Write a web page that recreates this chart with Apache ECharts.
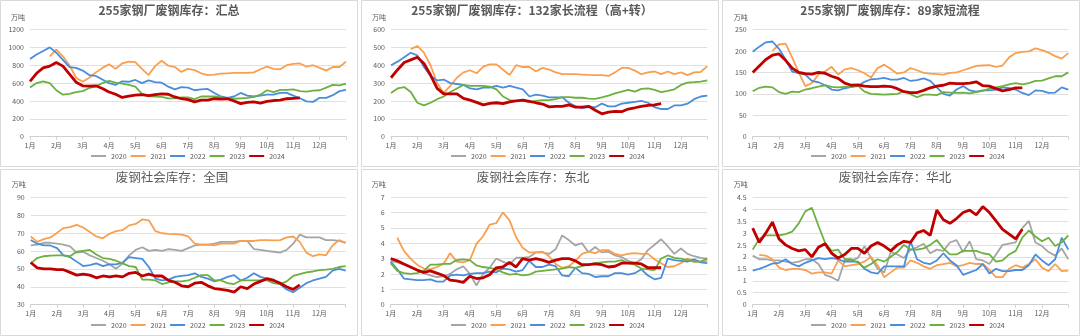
<!DOCTYPE html>
<html><head><meta charset="utf-8">
<script src="https://cdn.jsdelivr.net/npm/echarts@6/dist/echarts.min.js"></script>
<style>html,body{margin:0;padding:0;background:#fff}#c{width:1080px;height:336px}</style>
</head><body><div id="c"></div>
<script>
// ---- tick labels / categories ----
const months = ['1月','2月','3月','4月','5月','6月','7月','8月','9月','10月','11月','12月'];
const years = ['2020','2021','2022','2023','2024'];
const weeks = Array.from({length: 49}, (_, i) => String(i)); // quarter-month steps
const n = null;

// ---- 255家钢厂废钢库存：汇总 ----
const tot2020 = [];
const tot2021 = [n,n,n,900,975,900,800,660,615,660,720,770,810,760,820,840,835,760,690,790,850,795,780,725,760,745,710,690,695,705,710,715,715,715,720,755,785,760,755,800,815,820,785,800,770,740,780,780,840];
const tot2022 = [870,920,960,1000,940,860,780,770,740,690,680,640,600,580,620,615,635,600,630,610,605,560,530,555,550,520,530,535,490,450,435,450,490,460,450,460,470,470,490,490,460,430,395,390,435,435,465,510,525];
const tot2023 = [550,600,620,600,520,470,480,500,510,545,565,600,625,605,595,580,560,480,455,450,445,430,430,440,440,420,450,450,450,440,430,425,430,435,445,470,520,500,525,525,530,510,505,515,520,550,580,575,595];
const tot2024 = [620,710,770,790,830,790,700,610,570,565,570,540,500,475,440,455,465,470,460,470,480,475,445,425,415,390,410,410,425,420,425,400,370,385,390,375,395,405,410,425,430,435];

// ---- 132家长流程（高+转） ----
const lng2020 = [];
const lng2021 = [n,n,n,490,508,470,400,300,245,285,330,360,372,355,392,405,405,375,345,400,390,390,365,385,375,360,350,350,350,348,346,345,345,340,360,385,385,370,350,360,365,350,365,350,360,345,360,362,395];
const lng2022 = [400,420,445,470,455,390,340,315,320,300,295,290,270,265,275,275,285,275,285,275,265,225,235,230,220,220,220,190,170,160,165,165,185,170,170,185,190,195,200,190,165,155,155,175,175,185,210,225,230];
const lng2023 = [245,270,278,250,190,175,190,210,225,250,270,290,285,285,285,280,265,225,205,200,200,195,200,205,205,210,222,222,218,218,213,212,220,230,242,252,262,252,268,270,262,250,257,265,290,303,305,308,315];
const lng2024 = [330,375,415,430,445,410,345,270,240,240,240,215,205,192,178,187,190,185,195,200,205,198,190,183,167,170,170,178,165,165,170,148,128,138,142,140,155,162,170,175,178,185];

// ---- 89家短流程 ----
const sht2020 = [];
const sht2021 = [n,n,n,200,215,217,185,150,118,125,145,152,163,145,157,160,155,148,138,160,168,158,147,150,160,155,149,147,146,145,149,150,155,160,165,166,167,163,166,185,195,198,199,206,202,196,188,182,195];
const sht2022 = [198,210,220,222,205,180,152,148,145,130,127,120,110,108,113,116,118,128,134,135,137,133,133,137,130,132,136,130,115,100,96,110,118,108,105,108,108,110,115,113,110,102,97,108,107,102,103,115,110];
const sht2023 = [106,114,117,115,104,100,105,104,110,113,117,120,116,115,116,116,119,105,100,99,98,99,100,106,99,92,98,98,97,104,103,102,103,101,104,107,112,115,118,122,125,122,125,130,131,136,141,141,150];
const sht2024 = [150,165,180,190,193,178,160,150,147,146,150,148,141,136,125,120,121,118,117,117,118,117,112,105,103,103,108,114,118,120,125,124,124,125,128,119,118,112,107,110,114,114];

// ---- 废钢社会库存：全国 ----
const nat2020 = [63,63.5,64.5,64.5,64,63.5,62.5,59,59.5,57.5,56,54.5,52.5,50,53,57.5,60.5,62,60,60.5,60,61,60.5,60,61.5,63,63.5,63.5,64,65,65,65,65.5,65.5,61,60.5,60,59.5,59,60.5,64,69,67.5,67.5,67.5,66,66,65.5,64.5];
const nat2021 = [68,65,66.5,67.5,70,72.7,73.2,74.5,73,70.5,68,67,69.5,71,71.5,74.2,75,77.5,77,71,69.8,69.5,69.3,69,68,64,63.5,63.5,63,64,64,64,65.5,65.5,65.5,66,66,65.8,66,67.5,68,65,59,57,58,57.5,63,66,64.5];
const nat2022 = [66,64,63,63,61.5,57.5,56.5,54,51.5,52,53,51.5,52.5,52.5,53.5,56.5,56,55.5,51,44.5,43.5,44,45.5,46,46.5,47.5,45.5,44.5,43,44,45.5,46.5,43.5,45,47.5,45.5,44.5,44,41.5,38.5,37,39.5,42,43.5,44.5,45.5,49,50,49];
const nat2023 = [53,56,57,57.3,57.5,57.5,57,59.5,60,60.5,58,56,55.5,54.5,53,51.5,51,44,44,43.5,41.5,42.5,43,43,43.5,45,46.5,46.5,43.5,43.5,42,41.5,43.5,43.5,43.5,43.5,43.5,42,41.5,43,46,47,48,48.5,49.3,49.5,50,51,51.5];
const nat2024 = [53.5,50.5,50,50,49.5,49.5,48,46.5,47,46.5,45,46,45.5,46,45.5,47.5,48,46,47,46,46,43.5,42.5,40.5,40,42,42.5,40.5,39,38.5,38,37,40,39,41.5,43,44.5,43.5,42,40,38.5,41];

// ---- 废钢社会库存：东北 ----
const ne2020 = [2.85,2.75,2.6,2.45,2.25,2.05,1.9,1.8,1.85,2.0,2.3,2.5,2.0,1.25,2.0,2.4,3.0,2.8,2.6,3.05,3.05,3.1,3.4,3.4,3.3,3.6,4.5,4.2,3.85,4.0,3.4,3.75,3.4,3.45,3.2,3.1,2.85,2.7,2.95,3.55,3.9,4.25,3.8,3.3,3.65,3.3,3.15,3.05,3.0];
const ne2021 = [n,4.35,3.5,3.0,2.6,2.35,2.3,2.45,2.65,3.35,2.8,2.75,2.9,3.95,4.45,5.2,5.3,6.0,5.5,4.4,3.7,3.4,3.4,3.45,3.15,2.65,2.4,2.5,2.85,3.3,3.45,3.35,3.55,3.55,3.3,3.2,3.3,3.35,3.3,3.3,2.95,2.7,2.45,2.5,2.7,3.0,2.8,2.8,2.85];
const ne2022 = [2.8,2.3,1.7,1.65,1.6,1.6,1.65,1.5,1.5,1.9,1.95,1.9,2.0,2.05,2.05,2.15,2.1,2.35,2.3,2.15,2.25,2.85,2.45,2.45,2.6,2.5,1.9,1.85,2.4,2.05,2.0,1.8,1.85,1.85,2.05,2.05,1.95,2.05,2.3,1.9,1.65,1.75,3.0,2.9,2.85,2.8,2.95,2.75,2.7];
const ne2023 = [2.7,2.2,2.05,2.0,2.05,2.2,2.6,2.6,2.65,2.65,2.9,2.95,2.9,2.55,2.45,2.4,2.3,2.1,1.95,2.0,1.9,1.95,2.15,2.2,2.25,2.3,2.35,2.45,2.4,2.5,2.6,2.7,2.75,2.8,2.8,2.9,2.7,2.6,2.35,2.3,2.25,3.0,3.2,3.05,3.0,2.9,2.8,2.8,3.0];
const ne2024 = [3.0,2.85,2.65,2.45,2.25,2.1,2.2,2.05,1.9,1.6,1.55,1.45,1.85,1.7,1.75,1.95,2.4,2.45,2.75,2.45,3.0,2.9,3.0,2.9,2.75,2.9,3.0,3.0,2.85,2.6,2.6,2.65,2.6,2.45,2.5,2.7,2.7,2.7,2.65,2.4,2.4,2.4];

// ---- 废钢社会库存：华北 ----
const nc2020 = [2.05,1.9,1.9,1.85,1.85,1.8,1.75,1.8,1.9,1.9,1.7,1.25,1.15,1.0,1.85,1.85,1.95,2.45,1.95,1.5,1.35,2.2,2.1,1.95,2.3,2.4,2.55,2.15,2.3,2.25,2.6,2.7,2.2,2.65,1.9,1.85,1.7,2.1,2.5,2.55,2.6,3.2,3.5,2.6,2.45,2.2,2.05,2.35,1.9];
const nc2021 = [n,2.08,2.05,1.9,1.55,1.45,1.5,1.5,1.45,1.3,1.35,1.35,1.3,1.85,1.6,1.65,1.7,1.8,2.0,1.65,1.15,1.35,1.55,1.55,1.85,1.75,1.6,1.5,1.65,1.7,1.75,1.6,1.65,1.75,1.7,1.7,1.45,1.15,1.15,1.5,1.65,1.55,1.7,1.9,1.55,1.4,1.7,1.4,1.42];
const nc2022 = [1.42,1.5,1.6,1.72,1.75,1.9,1.7,1.6,1.75,1.85,1.95,1.9,1.95,1.9,1.8,1.8,1.8,1.5,1.35,1.3,1.6,1.6,1.6,1.6,2.65,1.9,1.75,1.7,1.85,2.15,1.85,1.65,1.25,1.35,1.45,1.7,1.3,1.5,1.4,1.4,1.45,1.45,1.65,2.1,1.85,1.65,1.9,2.8,2.3];
const nc2023 = [2.3,2.75,2.9,2.9,2.9,2.95,3.05,3.4,3.9,4.05,3.3,2.6,2.25,2.3,1.9,1.9,1.75,1.55,1.7,1.9,1.8,2.0,2.2,2.5,2.3,2.3,2.35,2.5,2.7,2.35,2.1,2.1,2.25,2.25,2.25,2.15,2.1,1.8,1.85,2.1,2.25,2.8,3.1,2.85,2.65,2.8,2.45,2.6,2.9];
const nc2024 = [3.2,2.6,3.0,3.45,2.75,2.5,2.35,2.25,2.3,2.0,2.4,2.55,2.15,1.95,2.1,2.35,2.35,2.15,2.45,2.6,2.45,2.25,2.5,2.65,2.6,3.0,3.1,2.9,3.95,3.55,3.4,3.6,3.85,3.95,3.75,4.1,3.85,3.5,3.15,2.95,2.75,3.15];

// ---- panel definitions ----
const panels = [
  {title:'255家钢厂废钢库存：汇总', bold:true, min:0, max:1200, step:200, series:[tot2020,tot2021,tot2022,tot2023,tot2024]},
  {title:'255家钢厂废钢库存：132家长流程（高+转）', bold:true, min:0, max:600, step:100, series:[lng2020,lng2021,lng2022,lng2023,lng2024]},
  {title:'255家钢厂废钢库存：89家短流程', bold:true, min:0, max:250, step:50, series:[sht2020,sht2021,sht2022,sht2023,sht2024]},
  {title:'废钢社会库存：全国', bold:false, min:30, max:90, step:10, series:[nat2020,nat2021,nat2022,nat2023,nat2024]},
  {title:'废钢社会库存：东北', bold:false, min:0, max:7, step:1, series:[ne2020,ne2021,ne2022,ne2023,ne2024]},
  {title:'废钢社会库存：华北', bold:false, min:0, max:4.5, step:0.5, series:[nc2020,nc2021,nc2022,nc2023,nc2024]}
];

// layout (pixels)
const boxes = [
  {x:0.5, y:0.5, gl:30, gt:29.5, gw:316, gh:107.2, tx:169, lx:90},
  {x:361.5, y:0.5, gl:391, gt:29.5, gw:316.3, gh:107.2, tx:532, lx:450},
  {x:722.5, y:0.5, gl:752.7, gt:29.5, gw:315.6, gh:107.2, tx:890, lx:810},
  {x:0.5, y:169.5, gl:30.7, gt:197, gw:315, gh:107.7, tx:172, lx:90},
  {x:361.5, y:169.5, gl:390.7, gt:197, gw:316.6, gh:107.7, tx:533, lx:450},
  {x:722.5, y:169.5, gl:752.7, gt:197, gw:315.6, gh:107.7, tx:895, lx:810}
];
const colors = ['#a5a5a5','#f9a050','#4a8ddc','#6cb040','#c00000'];
const FONT = '"Noto Sans CJK SC", "Noto Sans", sans-serif';
const txt = '#595959';

const option = {
  animation:false,
  backgroundColor:'#fff',
  title:[], grid:[], xAxis:[], yAxis:[], legend:[], series:[], graphic:[]
};

panels.forEach((p, k) => {
  const b = boxes[k];
  option.title.push({
    text:p.title, left:b.tx, top: p.bold ? b.y + 4 : b.y + 1.5, textAlign:'center', padding:0,
    textStyle:{fontFamily:FONT, fontSize: p.bold ? 12 : 12.5, fontWeight: p.bold ? 'bold' : 'normal', color:txt}
  });
  option.grid.push({left:b.gl, top:b.gt, width:b.gw, height:b.gh, containLabel:false});
  option.xAxis.push({
    type:'category', gridIndex:k, data:weeks, boundaryGap:false,
    axisLine:{show:true, lineStyle:{color:'#d0d0d0', width:1}},
    axisTick:{show:true, interval:(i)=> i % 4 === 0, length:3, lineStyle:{color:'#d0d0d0'}},
    axisLabel:{interval:(i)=> i % 4 === 0 && i < 48, formatter:(v, i)=> months[Math.round(Number(v) / 4)] || '',
      fontFamily:FONT, fontSize:7, color:txt, margin:5},
    splitLine:{show:false}
  });
  option.yAxis.push({
    type:'value', gridIndex:k, min:p.min, max:p.max, interval:p.step,
    axisLine:{show:false}, axisTick:{show:false},
    axisLabel:{fontFamily:FONT, fontSize:7, color:txt, margin:6, formatter:(v)=> String(v)},
    splitLine:{lineStyle:{color:'#e0e0e0', width:1}}
  });
  option.legend.push({
    data:years, left:b.lx, top:b.y + 152, orient:'horizontal', padding:0,
    itemWidth:15, itemHeight:2, itemGap:3,
    itemStyle:{opacity:0},
    textStyle:{fontFamily:FONT, fontSize:7, color:txt},
    selectedMode:false
  });
  years.forEach((y, j) => {
    option.series.push({
      type:'line', name:y, xAxisIndex:k, yAxisIndex:k, data:p.series[j],
      symbol:'none', showSymbol:false, smooth:false,
      lineStyle:{color:colors[j], width: j === 4 ? 2.8 : 1.8},
      itemStyle:{color:colors[j]},
      emphasis:{disabled:true}
    });
  });
  option.graphic.push({type:'rect', silent:true, z:-10,
    shape:{x:b.x, y:b.y, width:357, height:166},
    style:{fill:'#fff', stroke:'#d9d9d9', lineWidth:1}});
  option.graphic.push({type:'text', silent:true,
    style:{text:'万吨', x:b.gl - 5, y:b.gt - 12.5, textAlign:'right', textVerticalAlign:'middle',
      font:'7px ' + FONT, fill:txt}});
});

const chart = echarts.init(document.getElementById('c'), null, {renderer:'canvas'});
chart.setOption(option);
</script></body></html>
